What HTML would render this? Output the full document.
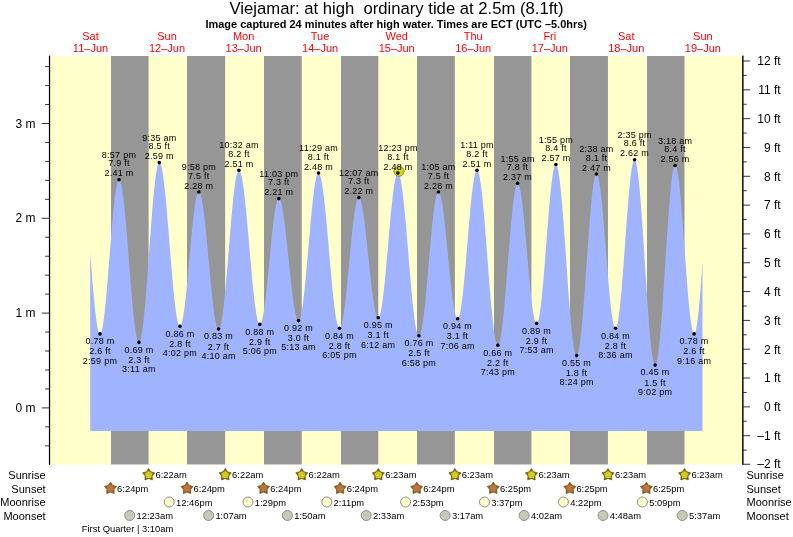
<!DOCTYPE html>
<html lang="en"><head><meta charset="utf-8"><title>Viejamar tide times</title>
<style>
html,body{margin:0;padding:0;background:#fff}
svg{display:block}
text{font-family:"Liberation Sans",Arial,Helvetica,sans-serif;fill:#000}
.t{font-size:16.67px;text-anchor:middle}
.s{font-size:10.96px;font-weight:bold}
.d{font-size:11px;fill:#f00;text-anchor:middle}
.ax{font-size:12px}
.axr{font-size:12px;text-anchor:end}
.rl{font-size:11px}
.rr{font-size:11px;text-anchor:end}
.l{font-size:9px;letter-spacing:0.25px;text-anchor:middle}
.e{font-size:9.4px}
</style></head><body>
<svg width="793" height="537" viewBox="0 0 793 537">
<rect width="793" height="537" fill="#fff"/>
<text class="t" x="396.5" y="13.5">Viejamar: at high&#160; ordinary tide at 2.5m (8.1ft)</text>
<text class="s" x="205.5" y="27.8">Image captured 24 minutes after high water. Times are ECT (UTC –5.0hrs)</text>
<text class="d" x="90.5" y="40.3">Sat</text><text class="d" x="90.5" y="52">11–Jun</text>
<text class="d" x="167.0" y="40.3">Sun</text><text class="d" x="167.0" y="52">12–Jun</text>
<text class="d" x="243.6" y="40.3">Mon</text><text class="d" x="243.6" y="52">13–Jun</text>
<text class="d" x="320.1" y="40.3">Tue</text><text class="d" x="320.1" y="52">14–Jun</text>
<text class="d" x="396.7" y="40.3">Wed</text><text class="d" x="396.7" y="52">15–Jun</text>
<text class="d" x="473.2" y="40.3">Thu</text><text class="d" x="473.2" y="52">16–Jun</text>
<text class="d" x="549.8" y="40.3">Fri</text><text class="d" x="549.8" y="52">17–Jun</text>
<text class="d" x="626.3" y="40.3">Sat</text><text class="d" x="626.3" y="52">18–Jun</text>
<text class="d" x="702.9" y="40.3">Sun</text><text class="d" x="702.9" y="52">19–Jun</text>
<g>
<rect x="50" y="56" width="692.2" height="408.45" fill="#ffffcc"/>
<rect x="111.00" y="56" width="37.60" height="408.45" fill="#969696"/>
<rect x="187.00" y="56" width="38.15" height="408.45" fill="#969696"/>
<rect x="264.00" y="56" width="37.70" height="408.45" fill="#969696"/>
<rect x="341.00" y="56" width="37.30" height="408.45" fill="#969696"/>
<rect x="417.00" y="56" width="37.85" height="408.45" fill="#969696"/>
<rect x="494.00" y="56" width="37.40" height="408.45" fill="#969696"/>
<rect x="570.00" y="56" width="37.95" height="408.45" fill="#969696"/>
<rect x="647.00" y="56" width="37.50" height="408.45" fill="#969696"/>
</g>
<polygon points="90.20,431.00 90.20,252.10 90.70,258.64 91.20,265.15 91.70,271.58 92.20,277.88 92.70,284.02 93.20,289.95 93.70,295.64 94.20,301.05 94.70,306.14 95.20,310.89 95.70,315.26 96.20,319.22 96.70,322.75 97.20,325.82 97.70,328.42 98.20,330.53 98.70,332.13 99.20,333.21 99.70,333.77 100.20,333.80 100.70,333.31 101.20,332.30 101.70,330.77 102.20,328.74 102.70,326.21 103.20,323.22 103.70,319.77 104.20,315.89 104.70,311.61 105.20,306.96 105.70,301.97 106.20,296.66 106.70,291.09 107.20,285.28 107.70,279.28 108.20,273.12 108.70,266.86 109.20,260.52 109.70,254.16 110.20,247.82 110.70,241.53 111.20,235.35 111.70,229.32 112.20,223.47 112.70,217.85 113.20,212.50 113.70,207.44 114.20,202.72 114.70,198.37 115.20,194.42 115.70,190.89 116.20,187.81 116.70,185.20 117.20,183.08 117.70,181.45 118.20,180.35 118.70,179.76 119.20,179.69 119.70,180.13 120.20,181.08 120.70,182.53 121.20,184.47 121.70,186.88 122.20,189.76 122.70,193.08 123.20,196.83 123.70,200.98 124.20,205.50 124.70,210.36 125.20,215.55 125.70,221.01 126.20,226.73 126.70,232.66 127.20,238.77 127.70,245.01 128.20,251.36 128.70,257.76 129.20,264.19 129.70,270.60 130.20,276.94 130.70,283.19 131.20,289.30 131.70,295.23 132.20,300.95 132.70,306.42 133.20,311.60 133.70,316.47 134.20,321.00 134.70,325.15 135.20,328.90 135.70,332.23 136.20,335.11 136.70,337.53 137.20,339.47 137.70,340.92 138.20,341.88 138.70,342.33 139.20,342.27 139.70,341.67 140.20,340.56 140.70,338.92 141.20,336.76 141.70,334.11 142.20,330.98 142.70,327.38 143.20,323.34 143.70,318.88 144.20,314.03 144.70,308.81 145.20,303.26 145.70,297.41 146.20,291.29 146.70,284.94 147.20,278.40 147.70,271.71 148.20,264.91 148.70,258.03 149.20,251.12 149.70,244.21 150.20,237.36 150.70,230.59 151.20,223.96 151.70,217.49 152.20,211.23 152.70,205.22 153.20,199.48 153.70,194.06 154.20,188.98 154.70,184.28 155.20,179.99 155.70,176.12 156.20,172.70 156.70,169.76 157.20,167.31 157.70,165.36 158.20,163.93 158.70,163.02 159.20,162.64 159.70,162.77 160.20,163.39 160.70,164.47 161.20,166.02 161.70,168.03 162.20,170.48 162.70,173.37 163.20,176.67 163.70,180.36 164.20,184.43 164.70,188.84 165.20,193.58 165.70,198.62 166.20,203.93 166.70,209.47 167.20,215.21 167.70,221.13 168.20,227.18 168.70,233.33 169.20,239.54 169.70,245.79 170.20,252.03 170.70,258.22 171.20,264.33 171.70,270.33 172.20,276.17 172.70,281.84 173.20,287.28 173.70,292.47 174.20,297.39 174.70,301.99 175.20,306.26 175.70,310.17 176.20,313.70 176.70,316.83 177.20,319.53 177.70,321.79 178.20,323.61 178.70,324.96 179.20,325.84 179.70,326.25 180.20,326.19 180.70,325.66 181.20,324.68 181.70,323.24 182.20,321.36 182.70,319.06 183.20,316.34 183.70,313.22 184.20,309.74 184.70,305.90 185.20,301.75 185.70,297.30 186.20,292.58 186.70,287.64 187.20,282.50 187.70,277.20 188.20,271.78 188.70,266.26 189.20,260.70 189.70,255.13 190.20,249.58 190.70,244.11 191.20,238.73 191.70,233.49 192.20,228.43 192.70,223.59 193.20,218.98 193.70,214.66 194.20,210.64 194.70,206.95 195.20,203.62 195.70,200.68 196.20,198.13 196.70,196.01 197.20,194.32 197.70,193.08 198.20,192.29 198.70,191.96 199.20,192.09 199.70,192.64 200.20,193.63 200.70,195.04 201.20,196.86 201.70,199.08 202.20,201.69 202.70,204.67 203.20,208.00 203.70,211.67 204.20,215.64 204.70,219.90 205.20,224.41 205.70,229.15 206.20,234.09 206.70,239.19 207.20,244.43 207.70,249.77 208.20,255.18 208.70,260.62 209.20,266.06 209.70,271.47 210.20,276.81 210.70,282.04 211.20,287.14 211.70,292.08 212.20,296.81 212.70,301.31 213.20,305.56 213.70,309.52 214.20,313.18 214.70,316.50 215.20,319.47 215.70,322.07 216.20,324.28 216.70,326.09 217.20,327.48 217.70,328.45 218.20,329.00 218.70,329.11 219.20,328.76 219.70,327.93 220.20,326.64 220.70,324.89 221.20,322.68 221.70,320.04 222.20,316.98 222.70,313.52 223.20,309.67 223.70,305.47 224.20,300.93 224.70,296.09 225.20,290.96 225.70,285.60 226.20,280.01 226.70,274.25 227.20,268.33 227.70,262.31 228.20,256.21 228.70,250.07 229.20,243.93 229.70,237.82 230.20,231.78 230.70,225.85 231.20,220.07 231.70,214.46 232.20,209.06 232.70,203.90 233.20,199.02 233.70,194.43 234.20,190.18 234.70,186.29 235.20,182.77 235.70,179.66 236.20,176.96 236.70,174.70 237.20,172.88 237.70,171.53 238.20,170.64 238.70,170.23 239.20,170.28 239.70,170.77 240.20,171.68 240.70,173.03 241.20,174.79 241.70,176.96 242.20,179.52 242.70,182.46 243.20,185.77 243.70,189.43 244.20,193.41 244.70,197.69 245.20,202.25 245.70,207.07 246.20,212.11 246.70,217.35 247.20,222.76 247.70,228.30 248.20,233.95 248.70,239.68 249.20,245.45 249.70,251.23 250.20,256.99 250.70,262.69 251.20,268.31 251.70,273.81 252.20,279.16 252.70,284.33 253.20,289.29 253.70,294.02 254.20,298.48 254.70,302.66 255.20,306.52 255.70,310.05 256.20,313.23 256.70,316.04 257.20,318.46 257.70,320.48 258.20,322.09 258.70,323.28 259.20,324.05 259.70,324.38 260.20,324.28 260.70,323.74 261.20,322.79 261.70,321.41 262.20,319.62 262.70,317.43 263.20,314.86 263.70,311.93 264.20,308.65 264.70,305.05 265.20,301.15 265.70,296.97 266.20,292.56 266.70,287.93 267.20,283.12 267.70,278.16 268.20,273.09 268.70,267.94 269.20,262.74 269.70,257.54 270.20,252.36 270.70,247.25 271.20,242.23 271.70,237.34 272.20,232.62 272.70,228.10 273.20,223.81 273.70,219.77 274.20,216.02 274.70,212.58 275.20,209.48 275.70,206.73 276.20,204.35 276.70,202.37 277.20,200.79 277.70,199.63 278.20,198.89 278.70,198.58 279.20,198.69 279.70,199.19 280.20,200.07 280.70,201.33 281.20,202.97 281.70,204.96 282.20,207.30 282.70,209.98 283.20,212.97 283.70,216.26 284.20,219.82 284.70,223.64 285.20,227.69 285.70,231.94 286.20,236.37 286.70,240.94 287.20,245.64 287.70,250.42 288.20,255.26 288.70,260.13 289.20,265.00 289.70,269.83 290.20,274.60 290.70,279.27 291.20,283.81 291.70,288.20 292.20,292.41 292.70,296.41 293.20,300.17 293.70,303.68 294.20,306.90 294.70,309.83 295.20,312.43 295.70,314.70 296.20,316.61 296.70,318.16 297.20,319.34 297.70,320.14 298.20,320.55 298.70,320.56 299.20,320.13 299.70,319.25 300.20,317.92 300.70,316.16 301.20,313.96 301.70,311.35 302.20,308.34 302.70,304.96 303.20,301.21 303.70,297.13 304.20,292.73 304.70,288.06 305.20,283.13 305.70,277.97 306.20,272.62 306.70,267.12 307.20,261.49 307.70,255.76 308.20,249.99 308.70,244.19 309.20,238.41 309.70,232.68 310.20,227.04 310.70,221.52 311.20,216.15 311.70,210.98 312.20,206.03 312.70,201.33 313.20,196.90 313.70,192.79 314.20,189.01 314.70,185.59 315.20,182.55 315.70,179.90 316.20,177.67 316.70,175.86 317.20,174.49 317.70,173.57 318.20,173.10 318.70,173.08 319.20,173.50 319.70,174.34 320.20,175.61 320.70,177.30 321.20,179.39 321.70,181.89 322.20,184.76 322.70,188.00 323.20,191.59 323.70,195.51 324.20,199.73 324.70,204.24 325.20,209.01 325.70,214.00 326.20,219.20 326.70,224.58 327.20,230.10 327.70,235.73 328.20,241.45 328.70,247.22 329.20,253.00 329.70,258.78 330.20,264.51 330.70,270.16 331.20,275.70 331.70,281.10 332.20,286.33 332.70,291.37 333.20,296.17 333.70,300.73 334.20,305.00 334.70,308.97 335.20,312.62 335.70,315.92 336.20,318.86 336.70,321.42 337.20,323.58 337.70,325.34 338.20,326.68 338.70,327.60 339.20,328.09 339.70,328.15 340.20,327.77 340.70,326.97 341.20,325.73 341.70,324.08 342.20,322.02 342.70,319.57 343.20,316.74 343.70,313.55 344.20,310.02 344.70,306.18 345.20,302.05 345.70,297.66 346.20,293.04 346.70,288.22 347.20,283.23 347.70,278.11 348.20,272.88 348.70,267.59 349.20,262.26 349.70,256.95 350.20,251.66 350.70,246.46 351.20,241.36 351.70,236.41 352.20,231.64 352.70,227.07 353.20,222.74 353.70,218.68 354.20,214.91 354.70,211.46 355.20,208.36 355.70,205.62 356.20,203.26 356.70,201.29 357.20,199.74 357.70,198.61 358.20,197.90 358.70,197.63 359.20,197.78 359.70,198.32 360.20,199.25 360.70,200.56 361.20,202.25 361.70,204.30 362.20,206.70 362.70,209.43 363.20,212.48 363.70,215.83 364.20,219.45 364.70,223.32 365.20,227.41 365.70,231.71 366.20,236.17 366.70,240.78 367.20,245.49 367.70,250.29 368.20,255.13 368.70,260.00 369.20,264.84 369.70,269.64 370.20,274.36 370.70,278.98 371.20,283.45 371.70,287.75 372.20,291.86 372.70,295.75 373.20,299.38 373.70,302.74 374.20,305.81 374.70,308.56 375.20,310.98 375.70,313.05 376.20,314.75 376.70,316.09 377.20,317.04 377.70,317.60 378.20,317.77 378.70,317.51 379.20,316.79 379.70,315.62 380.20,314.00 380.70,311.95 381.20,309.48 381.70,306.60 382.20,303.33 382.70,299.70 383.20,295.72 383.70,291.42 384.20,286.83 384.70,281.98 385.20,276.90 385.70,271.61 386.20,266.16 386.70,260.58 387.20,254.90 387.70,249.16 388.20,243.40 388.70,237.65 389.20,231.95 389.70,226.34 390.20,220.84 390.70,215.51 391.20,210.36 391.70,205.43 392.20,200.76 392.70,196.37 393.20,192.29 393.70,188.54 394.20,185.16 394.70,182.16 395.20,179.56 395.70,177.38 396.20,175.63 396.70,174.32 397.20,173.47 397.70,173.06 398.20,173.12 398.70,173.63 399.20,174.60 399.70,176.00 400.20,177.85 400.70,180.13 401.20,182.82 401.70,185.91 402.20,189.39 402.70,193.22 403.20,197.40 403.70,201.90 404.20,206.70 404.70,211.75 405.20,217.05 405.70,222.56 406.20,228.24 406.70,234.07 407.20,240.02 407.70,246.04 408.20,252.12 408.70,258.20 409.20,264.26 409.70,270.27 410.20,276.19 410.70,281.99 411.20,287.63 411.70,293.09 412.20,298.33 412.70,303.32 413.20,308.04 413.70,312.46 414.20,316.56 414.70,320.31 415.20,323.68 415.70,326.68 416.20,329.26 416.70,331.43 417.20,333.17 417.70,334.47 418.20,335.32 418.70,335.71 419.20,335.65 419.70,335.13 420.20,334.14 420.70,332.70 421.20,330.81 421.70,328.49 422.20,325.75 422.70,322.60 423.20,319.08 423.70,315.20 424.20,310.99 424.70,306.47 425.20,301.67 425.70,296.63 426.20,291.38 426.70,285.95 427.20,280.38 427.70,274.70 428.20,268.94 428.70,263.16 429.20,257.38 429.70,251.64 430.20,245.98 430.70,240.44 431.20,235.05 431.70,229.84 432.20,224.86 432.70,220.13 433.20,215.68 433.70,211.54 434.20,207.74 434.70,204.31 435.20,201.26 435.70,198.62 436.20,196.40 436.70,194.61 437.20,193.28 437.70,192.40 438.20,191.99 438.70,192.03 439.20,192.50 439.70,193.39 440.20,194.70 440.70,196.41 441.20,198.52 441.70,201.00 442.20,203.85 442.70,207.05 443.20,210.57 443.70,214.39 444.20,218.48 444.70,222.82 445.20,227.37 445.70,232.12 446.20,237.02 446.70,242.04 447.20,247.15 447.70,252.32 448.20,257.51 448.70,262.68 449.20,267.80 449.70,272.84 450.20,277.76 450.70,282.53 451.20,287.12 451.70,291.50 452.20,295.63 452.70,299.50 453.20,303.07 453.70,306.32 454.20,309.23 454.70,311.77 455.20,313.94 455.70,315.72 456.20,317.09 456.70,318.05 457.20,318.59 457.70,318.70 458.20,318.35 458.70,317.51 459.20,316.19 459.70,314.41 460.20,312.16 460.70,309.48 461.20,306.36 461.70,302.84 462.20,298.94 462.70,294.68 463.20,290.09 463.70,285.21 464.20,280.05 464.70,274.67 465.20,269.08 465.70,263.34 466.20,257.47 466.70,251.51 467.20,245.51 467.70,239.50 468.20,233.53 468.70,227.62 469.20,221.83 469.70,216.18 470.20,210.72 470.70,205.48 471.20,200.50 471.70,195.80 472.20,191.42 472.70,187.39 473.20,183.74 473.70,180.48 474.20,177.64 474.70,175.24 475.20,173.29 475.70,171.81 476.20,170.80 476.70,170.28 477.20,170.24 477.70,170.70 478.20,171.65 478.70,173.09 479.20,175.01 479.70,177.40 480.20,180.25 480.70,183.53 481.20,187.24 481.70,191.35 482.20,195.83 482.70,200.67 483.20,205.83 483.70,211.28 484.20,217.00 484.70,222.95 485.20,229.10 485.70,235.41 486.20,241.84 486.70,248.37 487.20,254.95 487.70,261.54 488.20,268.11 488.70,274.63 489.20,281.04 489.70,287.33 490.20,293.45 490.70,299.36 491.20,305.04 491.70,310.44 492.20,315.55 492.70,320.33 493.20,324.76 493.70,328.80 494.20,332.44 494.70,335.65 495.20,338.43 495.70,340.74 496.20,342.58 496.70,343.94 497.20,344.81 497.70,345.19 498.20,345.06 498.70,344.43 499.20,343.29 499.70,341.65 500.20,339.53 500.70,336.93 501.20,333.87 501.70,330.38 502.20,326.47 502.70,322.16 503.20,317.49 503.70,312.49 504.20,307.18 504.70,301.60 505.20,295.79 505.70,289.78 506.20,283.61 506.70,277.32 507.20,270.94 507.70,264.52 508.20,258.10 508.70,251.72 509.20,245.42 509.70,239.24 510.20,233.22 510.70,227.39 511.20,221.80 511.70,216.48 512.20,211.45 512.70,206.76 513.20,202.43 513.70,198.50 514.20,194.97 514.70,191.89 515.20,189.26 515.70,187.11 516.20,185.44 516.70,184.27 517.20,183.60 517.70,183.45 518.20,183.78 518.70,184.58 519.20,185.86 519.70,187.59 520.20,189.77 520.70,192.39 521.20,195.42 521.70,198.84 522.20,202.64 522.70,206.79 523.20,211.25 523.70,216.00 524.20,221.00 524.70,226.23 525.20,231.64 525.70,237.19 526.20,242.86 526.70,248.60 527.20,254.38 527.70,260.15 528.20,265.87 528.70,271.51 529.20,277.02 529.70,282.37 530.20,287.53 530.70,292.46 531.20,297.12 531.70,301.48 532.20,305.51 532.70,309.19 533.20,312.49 533.70,315.39 534.20,317.87 534.70,319.91 535.20,321.49 535.70,322.61 536.20,323.27 536.70,323.44 537.20,323.11 537.70,322.25 538.20,320.87 538.70,318.97 539.20,316.58 539.70,313.70 540.20,310.36 540.70,306.58 541.20,302.38 541.70,297.79 542.20,292.84 542.70,287.57 543.20,282.01 543.70,276.19 544.20,270.16 544.70,263.96 545.20,257.62 545.70,251.19 546.20,244.71 546.70,238.23 547.20,231.79 547.70,225.43 548.20,219.19 548.70,213.12 549.20,207.25 549.70,201.63 550.20,196.29 550.70,191.26 551.20,186.59 551.70,182.30 552.20,178.42 552.70,174.98 553.20,171.99 553.70,169.49 554.20,167.48 554.70,165.98 555.20,165.00 555.70,164.55 556.20,164.63 556.70,165.26 557.20,166.44 557.70,168.15 558.20,170.40 558.70,173.16 559.20,176.43 559.70,180.17 560.20,184.38 560.70,189.03 561.20,194.08 561.70,199.51 562.20,205.30 562.70,211.40 563.20,217.78 563.70,224.40 564.20,231.23 564.70,238.23 565.20,245.35 565.70,252.55 566.20,259.80 566.70,267.06 567.20,274.27 567.70,281.40 568.20,288.40 568.70,295.24 569.20,301.88 569.70,308.28 570.20,314.40 570.70,320.21 571.20,325.67 571.70,330.75 572.20,335.43 572.70,339.67 573.20,343.45 573.70,346.75 574.20,349.55 574.70,351.83 575.20,353.59 575.70,354.80 576.20,355.47 576.70,355.59 577.20,355.14 577.70,354.13 578.20,352.57 578.70,350.46 579.20,347.81 579.70,344.64 580.20,340.98 580.70,336.84 581.20,332.25 581.70,327.24 582.20,321.84 582.70,316.09 583.20,310.01 583.70,303.66 584.20,297.06 584.70,290.26 585.20,283.30 585.70,276.22 586.20,269.07 586.70,261.90 587.20,254.75 587.70,247.65 588.20,240.67 588.70,233.83 589.20,227.19 589.70,220.78 590.20,214.65 590.70,208.83 591.20,203.36 591.70,198.27 592.20,193.60 592.70,189.37 593.20,185.62 593.70,182.35 594.20,179.60 594.70,177.39 595.20,175.71 595.70,174.60 596.20,174.04 596.70,174.05 597.20,174.59 597.70,175.64 598.20,177.21 598.70,179.29 599.20,181.85 599.70,184.88 600.20,188.36 600.70,192.28 601.20,196.59 601.70,201.27 602.20,206.29 602.70,211.62 603.20,217.21 603.70,223.04 604.20,229.05 604.70,235.22 605.20,241.50 605.70,247.83 606.20,254.20 606.70,260.54 607.20,266.81 607.70,272.98 608.20,279.00 608.70,284.83 609.20,290.43 609.70,295.76 610.20,300.79 610.70,305.48 611.20,309.80 611.70,313.72 612.20,317.21 612.70,320.25 613.20,322.82 613.70,324.91 614.20,326.49 614.70,327.55 615.20,328.10 615.70,328.12 616.20,327.57 616.70,326.46 617.20,324.79 617.70,322.57 618.20,319.82 618.70,316.56 619.20,312.80 619.70,308.58 620.20,303.92 620.70,298.86 621.20,293.42 621.70,287.65 622.20,281.59 622.70,275.27 623.20,268.73 623.70,262.03 624.20,255.21 624.70,248.31 625.20,241.38 625.70,234.47 626.20,227.63 626.70,220.89 627.20,214.32 627.70,207.94 628.20,201.80 628.70,195.96 629.20,190.43 629.70,185.27 630.20,180.51 630.70,176.18 631.20,172.30 631.70,168.91 632.20,166.03 632.70,163.68 633.20,161.87 633.70,160.62 634.20,159.93 634.70,159.81 635.20,160.29 635.70,161.35 636.20,163.01 636.70,165.25 637.20,168.05 637.70,171.40 638.20,175.28 638.70,179.67 639.20,184.55 639.70,189.87 640.20,195.62 640.70,201.76 641.20,208.25 641.70,215.06 642.20,222.14 642.70,229.46 643.20,236.97 643.70,244.63 644.20,252.40 644.70,260.22 645.20,268.05 645.70,275.85 646.20,283.57 646.70,291.17 647.20,298.61 647.70,305.83 648.20,312.80 648.70,319.47 649.20,325.81 649.70,331.79 650.20,337.36 650.70,342.49 651.20,347.16 651.70,351.33 652.20,354.98 652.70,358.10 653.20,360.66 653.70,362.64 654.20,364.04 654.70,364.85 655.20,365.06 655.70,364.67 656.20,363.66 656.70,362.04 657.20,359.82 657.70,357.02 658.20,353.66 658.70,349.75 659.20,345.31 659.70,340.39 660.20,335.00 660.70,329.18 661.20,322.96 661.70,316.39 662.20,309.50 662.70,302.34 663.20,294.95 663.70,287.38 664.20,279.67 664.70,271.88 665.20,264.04 665.70,256.21 666.20,248.43 666.70,240.76 667.20,233.24 667.70,225.92 668.20,218.84 668.70,212.05 669.20,205.58 669.70,199.49 670.20,193.80 670.70,188.55 671.20,183.78 671.70,179.50 672.20,175.76 672.70,172.57 673.20,169.95 673.70,167.92 674.20,166.50 674.70,165.68 675.20,165.47 675.70,165.86 676.20,166.81 676.70,168.33 677.20,170.40 677.70,173.01 678.20,176.14 678.70,179.78 679.20,183.89 679.70,188.44 680.20,193.42 680.70,198.78 681.20,204.48 681.70,210.49 682.20,216.77 682.70,223.27 683.20,229.95 683.70,236.77 684.20,243.67 684.70,250.61 685.20,257.55 685.70,264.44 686.20,271.22 686.70,277.86 687.20,284.30 687.70,290.51 688.20,296.44 688.70,302.05 689.20,307.31 689.70,312.17 690.20,316.61 690.70,320.59 691.20,324.09 691.70,327.08 692.20,329.54 692.70,331.46 693.20,332.83 693.70,333.62 694.20,333.85 694.70,333.48 695.20,332.51 695.70,330.95 696.20,328.80 696.70,326.09 697.20,322.82 697.70,319.02 698.20,314.72 698.70,309.95 699.20,304.73 699.70,299.11 700.20,293.13 700.70,286.81 701.20,280.22 701.70,273.38 702.20,266.36 702.50,262.07 702.50,431.00" fill="#a0b3ff"/>
<rect x="48.9" y="55.6" width="1.25" height="409.2" fill="#000"/><rect x="742.1" y="55.6" width="1.45" height="409.2" fill="#000"/>
<g stroke="#000" stroke-width="0.8">
<line x1="45.1" y1="445.82" x2="49" y2="445.82"/>
<line x1="45.1" y1="426.86" x2="49" y2="426.86"/>
<line x1="41.8" y1="407.90" x2="49" y2="407.90"/>
<line x1="45.1" y1="388.94" x2="49" y2="388.94"/>
<line x1="45.1" y1="369.98" x2="49" y2="369.98"/>
<line x1="45.1" y1="351.02" x2="49" y2="351.02"/>
<line x1="45.1" y1="332.06" x2="49" y2="332.06"/>
<line x1="41.8" y1="313.10" x2="49" y2="313.10"/>
<line x1="45.1" y1="294.14" x2="49" y2="294.14"/>
<line x1="45.1" y1="275.18" x2="49" y2="275.18"/>
<line x1="45.1" y1="256.22" x2="49" y2="256.22"/>
<line x1="45.1" y1="237.26" x2="49" y2="237.26"/>
<line x1="41.8" y1="218.30" x2="49" y2="218.30"/>
<line x1="45.1" y1="199.34" x2="49" y2="199.34"/>
<line x1="45.1" y1="180.38" x2="49" y2="180.38"/>
<line x1="45.1" y1="161.42" x2="49" y2="161.42"/>
<line x1="45.1" y1="142.46" x2="49" y2="142.46"/>
<line x1="41.8" y1="123.50" x2="49" y2="123.50"/>
<line x1="45.1" y1="104.54" x2="49" y2="104.54"/>
<line x1="45.1" y1="85.58" x2="49" y2="85.58"/>
<line x1="45.1" y1="66.62" x2="49" y2="66.62"/>
<line x1="743.3" y1="464.25" x2="750.1" y2="464.25"/>
<line x1="743.3" y1="450.08" x2="746.7" y2="450.08"/>
<line x1="743.3" y1="435.67" x2="750.1" y2="435.67"/>
<line x1="743.3" y1="421.26" x2="746.7" y2="421.26"/>
<line x1="743.3" y1="406.85" x2="750.1" y2="406.85"/>
<line x1="743.3" y1="392.44" x2="746.7" y2="392.44"/>
<line x1="743.3" y1="378.03" x2="750.1" y2="378.03"/>
<line x1="743.3" y1="363.62" x2="746.7" y2="363.62"/>
<line x1="743.3" y1="349.21" x2="750.1" y2="349.21"/>
<line x1="743.3" y1="334.80" x2="746.7" y2="334.80"/>
<line x1="743.3" y1="320.39" x2="750.1" y2="320.39"/>
<line x1="743.3" y1="305.98" x2="746.7" y2="305.98"/>
<line x1="743.3" y1="291.57" x2="750.1" y2="291.57"/>
<line x1="743.3" y1="277.16" x2="746.7" y2="277.16"/>
<line x1="743.3" y1="262.75" x2="750.1" y2="262.75"/>
<line x1="743.3" y1="248.34" x2="746.7" y2="248.34"/>
<line x1="743.3" y1="233.93" x2="750.1" y2="233.93"/>
<line x1="743.3" y1="219.52" x2="746.7" y2="219.52"/>
<line x1="743.3" y1="205.11" x2="750.1" y2="205.11"/>
<line x1="743.3" y1="190.70" x2="746.7" y2="190.70"/>
<line x1="743.3" y1="176.29" x2="750.1" y2="176.29"/>
<line x1="743.3" y1="161.88" x2="746.7" y2="161.88"/>
<line x1="743.3" y1="147.47" x2="750.1" y2="147.47"/>
<line x1="743.3" y1="133.06" x2="746.7" y2="133.06"/>
<line x1="743.3" y1="118.65" x2="750.1" y2="118.65"/>
<line x1="743.3" y1="104.24" x2="746.7" y2="104.24"/>
<line x1="743.3" y1="89.83" x2="750.1" y2="89.83"/>
<line x1="743.3" y1="75.42" x2="746.7" y2="75.42"/>
<line x1="743.3" y1="61.01" x2="750.1" y2="61.01"/>
</g>
<text class="ax" x="15.5" y="412.0">0 m</text>
<text class="ax" x="15.5" y="317.2">1 m</text>
<text class="ax" x="15.5" y="222.4">2 m</text>
<text class="ax" x="15.5" y="127.6">3 m</text>
<text class="axr" x="780.6" y="467.8">–2 ft</text>
<text class="axr" x="780.6" y="440.0">–1 ft</text>
<text class="axr" x="780.6" y="411.2">0 ft</text>
<text class="axr" x="780.6" y="382.3">1 ft</text>
<text class="axr" x="780.6" y="353.5">2 ft</text>
<text class="axr" x="780.6" y="324.7">3 ft</text>
<text class="axr" x="780.6" y="295.9">4 ft</text>
<text class="axr" x="780.6" y="267.1">5 ft</text>
<text class="axr" x="780.6" y="238.2">6 ft</text>
<text class="axr" x="780.6" y="209.4">7 ft</text>
<text class="axr" x="780.6" y="180.6">8 ft</text>
<text class="axr" x="780.6" y="151.8">9 ft</text>
<text class="axr" x="780.6" y="123.0">10 ft</text>
<text class="axr" x="780.6" y="94.1">11 ft</text>
<text class="axr" x="780.6" y="65.3">12 ft</text>
<circle cx="399.0" cy="171.2" r="5.1" fill="#d2d222" stroke="#9a9a18" stroke-width="1"/>
<text class="l" x="100.0" y="344.2">0.78 m</text><text class="l" x="100.0" y="354.4">2.6 ft</text><text class="l" x="100.0" y="363.7">2:59 pm</text>
<text class="l" x="119.0" y="157.9">8:57 pm</text><text class="l" x="119.0" y="166.3">7.9 ft</text><text class="l" x="119.0" y="176.3">2.41 m</text>
<text class="l" x="138.9" y="352.7">0.69 m</text><text class="l" x="138.9" y="362.9">2.3 ft</text><text class="l" x="138.9" y="372.2">3:11 am</text>
<text class="l" x="159.3" y="140.8">9:35 am</text><text class="l" x="159.3" y="149.2">8.5 ft</text><text class="l" x="159.3" y="159.2">2.59 m</text>
<text class="l" x="179.9" y="336.6">0.86 m</text><text class="l" x="179.9" y="346.8">2.8 ft</text><text class="l" x="179.9" y="356.1">4:02 pm</text>
<text class="l" x="198.8" y="170.2">9:58 pm</text><text class="l" x="198.8" y="178.6">7.5 ft</text><text class="l" x="198.8" y="188.6">2.28 m</text>
<text class="l" x="218.6" y="339.4">0.83 m</text><text class="l" x="218.6" y="349.6">2.7 ft</text><text class="l" x="218.6" y="358.9">4:10 am</text>
<text class="l" x="238.9" y="148.4">10:32 am</text><text class="l" x="238.9" y="156.8">8.2 ft</text><text class="l" x="238.9" y="166.8">2.51 m</text>
<text class="l" x="259.8" y="334.7">0.88 m</text><text class="l" x="259.8" y="344.9">2.9 ft</text><text class="l" x="259.8" y="354.2">5:06 pm</text>
<text class="l" x="278.8" y="176.8">11:03 pm</text><text class="l" x="278.8" y="185.2">7.3 ft</text><text class="l" x="278.8" y="195.2">2.21 m</text>
<text class="l" x="298.5" y="330.9">0.92 m</text><text class="l" x="298.5" y="341.1">3.0 ft</text><text class="l" x="298.5" y="350.4">5:13 am</text>
<text class="l" x="318.5" y="151.2">11:29 am</text><text class="l" x="318.5" y="159.6">8.1 ft</text><text class="l" x="318.5" y="169.6">2.48 m</text>
<text class="l" x="339.5" y="338.5">0.84 m</text><text class="l" x="339.5" y="348.7">2.8 ft</text><text class="l" x="339.5" y="358.0">6:05 pm</text>
<text class="l" x="358.8" y="175.8">12:07 am</text><text class="l" x="358.8" y="184.2">7.3 ft</text><text class="l" x="358.8" y="194.2">2.22 m</text>
<text class="l" x="378.2" y="328.1">0.95 m</text><text class="l" x="378.2" y="338.3">3.1 ft</text><text class="l" x="378.2" y="347.6">6:12 am</text>
<text class="l" x="397.9" y="151.2">12:23 pm</text><text class="l" x="397.9" y="159.6">8.1 ft</text><text class="l" x="397.9" y="169.6">2.48 m</text>
<text class="l" x="418.9" y="346.0">0.76 m</text><text class="l" x="418.9" y="356.2">2.5 ft</text><text class="l" x="418.9" y="365.5">6:58 pm</text>
<text class="l" x="438.4" y="170.2">1:05 am</text><text class="l" x="438.4" y="178.6">7.5 ft</text><text class="l" x="438.4" y="188.6">2.28 m</text>
<text class="l" x="457.6" y="329.0">0.94 m</text><text class="l" x="457.6" y="339.2">3.1 ft</text><text class="l" x="457.6" y="348.5">7:06 am</text>
<text class="l" x="477.0" y="148.4">1:11 pm</text><text class="l" x="477.0" y="156.8">8.2 ft</text><text class="l" x="477.0" y="166.8">2.51 m</text>
<text class="l" x="497.8" y="355.5">0.66 m</text><text class="l" x="497.8" y="365.7">2.2 ft</text><text class="l" x="497.8" y="375.0">7:43 pm</text>
<text class="l" x="517.6" y="161.6">1:55 am</text><text class="l" x="517.6" y="170.0">7.8 ft</text><text class="l" x="517.6" y="180.0">2.37 m</text>
<text class="l" x="536.6" y="333.7">0.89 m</text><text class="l" x="536.6" y="343.9">2.9 ft</text><text class="l" x="536.6" y="353.2">7:53 am</text>
<text class="l" x="555.9" y="142.7">1:55 pm</text><text class="l" x="555.9" y="151.1">8.4 ft</text><text class="l" x="555.9" y="161.1">2.57 m</text>
<text class="l" x="576.6" y="365.9">0.55 m</text><text class="l" x="576.6" y="376.1">1.8 ft</text><text class="l" x="576.6" y="385.4">8:24 pm</text>
<text class="l" x="596.4" y="152.2">2:38 am</text><text class="l" x="596.4" y="160.6">8.1 ft</text><text class="l" x="596.4" y="170.6">2.47 m</text>
<text class="l" x="615.5" y="338.5">0.84 m</text><text class="l" x="615.5" y="348.7">2.8 ft</text><text class="l" x="615.5" y="358.0">8:36 am</text>
<text class="l" x="634.6" y="138.0">2:35 pm</text><text class="l" x="634.6" y="146.4">8.6 ft</text><text class="l" x="634.6" y="156.4">2.62 m</text>
<text class="l" x="655.1" y="375.4">0.45 m</text><text class="l" x="655.1" y="385.6">1.5 ft</text><text class="l" x="655.1" y="394.9">9:02 pm</text>
<text class="l" x="675.1" y="143.7">3:18 am</text><text class="l" x="675.1" y="152.1">8.4 ft</text><text class="l" x="675.1" y="162.1">2.56 m</text>
<text class="l" x="694.1" y="344.2">0.78 m</text><text class="l" x="694.1" y="354.4">2.6 ft</text><text class="l" x="694.1" y="363.7">9:16 am</text>
<circle cx="100.0" cy="333.9" r="1.8" fill="#000"/>
<circle cx="119.0" cy="179.7" r="1.8" fill="#000"/>
<circle cx="138.9" cy="342.4" r="1.8" fill="#000"/>
<circle cx="159.3" cy="162.6" r="1.8" fill="#000"/>
<circle cx="179.9" cy="326.3" r="1.8" fill="#000"/>
<circle cx="198.8" cy="192.0" r="1.8" fill="#000"/>
<circle cx="218.6" cy="329.1" r="1.8" fill="#000"/>
<circle cx="238.9" cy="170.2" r="1.8" fill="#000"/>
<circle cx="259.8" cy="324.4" r="1.8" fill="#000"/>
<circle cx="278.8" cy="198.6" r="1.8" fill="#000"/>
<circle cx="298.5" cy="320.6" r="1.8" fill="#000"/>
<circle cx="318.5" cy="173.0" r="1.8" fill="#000"/>
<circle cx="339.5" cy="328.2" r="1.8" fill="#000"/>
<circle cx="358.8" cy="197.6" r="1.8" fill="#000"/>
<circle cx="378.2" cy="317.8" r="1.8" fill="#000"/>
<circle cx="397.9" cy="173.0" r="1.8" fill="#000"/>
<circle cx="418.9" cy="335.7" r="1.8" fill="#000"/>
<circle cx="438.4" cy="192.0" r="1.8" fill="#000"/>
<circle cx="457.6" cy="318.7" r="1.8" fill="#000"/>
<circle cx="477.0" cy="170.2" r="1.8" fill="#000"/>
<circle cx="497.8" cy="345.2" r="1.8" fill="#000"/>
<circle cx="517.6" cy="183.4" r="1.8" fill="#000"/>
<circle cx="536.6" cy="323.4" r="1.8" fill="#000"/>
<circle cx="555.9" cy="164.5" r="1.8" fill="#000"/>
<circle cx="576.6" cy="355.6" r="1.8" fill="#000"/>
<circle cx="596.4" cy="174.0" r="1.8" fill="#000"/>
<circle cx="615.5" cy="328.2" r="1.8" fill="#000"/>
<circle cx="634.6" cy="159.8" r="1.8" fill="#000"/>
<circle cx="655.1" cy="365.1" r="1.8" fill="#000"/>
<circle cx="675.1" cy="165.5" r="1.8" fill="#000"/>
<circle cx="694.1" cy="333.9" r="1.8" fill="#000"/>
<text class="rr" x="45.6" y="478.7">Sunrise</text><text class="rl" x="746.5" y="478.7">Sunrise</text>
<text class="rr" x="45.6" y="492.5">Sunset</text><text class="rl" x="746.5" y="492.5">Sunset</text>
<text class="rr" x="45.6" y="506.0">Moonrise</text><text class="rl" x="746.5" y="506.0">Moonrise</text>
<text class="rr" x="45.6" y="519.6">Moonset</text><text class="rl" x="746.5" y="519.6">Moonset</text>
<polygon points="148.65,468.50 150.82,471.81 154.64,472.85 152.17,475.94 152.35,479.90 148.65,478.50 144.94,479.90 145.13,475.94 142.66,472.85 146.47,471.81" fill="#7c5c10" stroke="#7c5c10" stroke-width="0.8" stroke-linejoin="miter"/><polygon points="148.65,470.90 150.50,472.25 152.36,473.59 151.64,475.77 150.94,477.96 148.65,477.95 146.35,477.96 145.65,475.77 144.94,473.59 146.80,472.25" fill="#cdcd20" stroke="#cdcd20" stroke-width="0.3" stroke-linejoin="round"/><text class="e" x="155.5" y="478.3">6:22am</text>
<polygon points="225.20,468.50 227.37,471.81 231.19,472.85 228.72,475.94 228.90,479.90 225.20,478.50 221.49,479.90 221.68,475.94 219.21,472.85 223.02,471.81" fill="#7c5c10" stroke="#7c5c10" stroke-width="0.8" stroke-linejoin="miter"/><polygon points="225.20,470.90 227.05,472.25 228.91,473.59 228.19,475.77 227.49,477.96 225.20,477.95 222.90,477.96 222.20,475.77 221.49,473.59 223.35,472.25" fill="#cdcd20" stroke="#cdcd20" stroke-width="0.3" stroke-linejoin="round"/><text class="e" x="232.1" y="478.3">6:22am</text>
<polygon points="301.75,468.50 303.92,471.81 307.74,472.85 305.27,475.94 305.45,479.90 301.75,478.50 298.04,479.90 298.23,475.94 295.76,472.85 299.57,471.81" fill="#7c5c10" stroke="#7c5c10" stroke-width="0.8" stroke-linejoin="miter"/><polygon points="301.75,470.90 303.60,472.25 305.46,473.59 304.74,475.77 304.04,477.96 301.75,477.95 299.45,477.96 298.75,475.77 298.04,473.59 299.90,472.25" fill="#cdcd20" stroke="#cdcd20" stroke-width="0.3" stroke-linejoin="round"/><text class="e" x="308.6" y="478.3">6:22am</text>
<polygon points="378.35,468.50 380.52,471.81 384.34,472.85 381.87,475.94 382.05,479.90 378.35,478.50 374.65,479.90 374.83,475.94 372.36,472.85 376.18,471.81" fill="#7c5c10" stroke="#7c5c10" stroke-width="0.8" stroke-linejoin="miter"/><polygon points="378.35,470.90 380.20,472.25 382.06,473.59 381.35,475.77 380.64,477.96 378.35,477.95 376.06,477.96 375.35,475.77 374.64,473.59 376.50,472.25" fill="#cdcd20" stroke="#cdcd20" stroke-width="0.3" stroke-linejoin="round"/><text class="e" x="385.3" y="478.3">6:23am</text>
<polygon points="454.90,468.50 457.07,471.81 460.89,472.85 458.42,475.94 458.60,479.90 454.90,478.50 451.20,479.90 451.38,475.94 448.91,472.85 452.73,471.81" fill="#7c5c10" stroke="#7c5c10" stroke-width="0.8" stroke-linejoin="miter"/><polygon points="454.90,470.90 456.75,472.25 458.61,473.59 457.90,475.77 457.19,477.96 454.90,477.95 452.61,477.96 451.90,475.77 451.19,473.59 453.05,472.25" fill="#cdcd20" stroke="#cdcd20" stroke-width="0.3" stroke-linejoin="round"/><text class="e" x="461.8" y="478.3">6:23am</text>
<polygon points="531.45,468.50 533.62,471.81 537.44,472.85 534.97,475.94 535.15,479.90 531.45,478.50 527.75,479.90 527.93,475.94 525.46,472.85 529.28,471.81" fill="#7c5c10" stroke="#7c5c10" stroke-width="0.8" stroke-linejoin="miter"/><polygon points="531.45,470.90 533.30,472.25 535.16,473.59 534.45,475.77 533.74,477.96 531.45,477.95 529.16,477.96 528.45,475.77 527.74,473.59 529.60,472.25" fill="#cdcd20" stroke="#cdcd20" stroke-width="0.3" stroke-linejoin="round"/><text class="e" x="538.4" y="478.3">6:23am</text>
<polygon points="608.00,468.50 610.17,471.81 613.99,472.85 611.52,475.94 611.70,479.90 608.00,478.50 604.30,479.90 604.48,475.94 602.01,472.85 605.83,471.81" fill="#7c5c10" stroke="#7c5c10" stroke-width="0.8" stroke-linejoin="miter"/><polygon points="608.00,470.90 609.85,472.25 611.71,473.59 611.00,475.77 610.29,477.96 608.00,477.95 605.71,477.96 605.00,475.77 604.29,473.59 606.15,472.25" fill="#cdcd20" stroke="#cdcd20" stroke-width="0.3" stroke-linejoin="round"/><text class="e" x="614.9" y="478.3">6:23am</text>
<polygon points="684.55,468.50 686.72,471.81 690.54,472.85 688.07,475.94 688.25,479.90 684.55,478.50 680.85,479.90 681.03,475.94 678.56,472.85 682.38,471.81" fill="#7c5c10" stroke="#7c5c10" stroke-width="0.8" stroke-linejoin="miter"/><polygon points="684.55,470.90 686.40,472.25 688.26,473.59 687.55,475.77 686.84,477.96 684.55,477.95 682.26,477.96 681.55,475.77 680.84,473.59 682.70,472.25" fill="#cdcd20" stroke="#cdcd20" stroke-width="0.3" stroke-linejoin="round"/><text class="e" x="691.5" y="478.3">6:23am</text>
<polygon points="110.48,482.10 112.65,485.41 116.47,486.45 114.00,489.54 114.18,493.50 110.48,492.10 106.78,493.50 106.96,489.54 104.49,486.45 108.30,485.41" fill="#7c5c10" stroke="#7c5c10" stroke-width="0.8" stroke-linejoin="miter"/><polygon points="110.48,484.50 112.33,485.85 114.19,487.19 113.47,489.37 112.77,491.56 110.48,491.55 108.19,491.56 107.48,489.37 106.77,487.19 108.63,485.85" fill="#c07248" stroke="#c07248" stroke-width="0.3" stroke-linejoin="round"/><text class="e" x="117.1" y="492.4">6:24pm</text>
<polygon points="187.03,482.10 189.20,485.41 193.02,486.45 190.55,489.54 190.73,493.50 187.03,492.10 183.33,493.50 183.51,489.54 181.04,486.45 184.85,485.41" fill="#7c5c10" stroke="#7c5c10" stroke-width="0.8" stroke-linejoin="miter"/><polygon points="187.03,484.50 188.88,485.85 190.74,487.19 190.02,489.37 189.32,491.56 187.03,491.55 184.74,491.56 184.03,489.37 183.32,487.19 185.18,485.85" fill="#c07248" stroke="#c07248" stroke-width="0.3" stroke-linejoin="round"/><text class="e" x="193.6" y="492.4">6:24pm</text>
<polygon points="263.58,482.10 265.75,485.41 269.57,486.45 267.10,489.54 267.28,493.50 263.58,492.10 259.88,493.50 260.06,489.54 257.59,486.45 261.40,485.41" fill="#7c5c10" stroke="#7c5c10" stroke-width="0.8" stroke-linejoin="miter"/><polygon points="263.58,484.50 265.43,485.85 267.29,487.19 266.57,489.37 265.87,491.56 263.58,491.55 261.29,491.56 260.58,489.37 259.87,487.19 261.73,485.85" fill="#c07248" stroke="#c07248" stroke-width="0.3" stroke-linejoin="round"/><text class="e" x="270.2" y="492.4">6:24pm</text>
<polygon points="340.13,482.10 342.30,485.41 346.12,486.45 343.65,489.54 343.83,493.50 340.13,492.10 336.43,493.50 336.61,489.54 334.14,486.45 337.95,485.41" fill="#7c5c10" stroke="#7c5c10" stroke-width="0.8" stroke-linejoin="miter"/><polygon points="340.13,484.50 341.98,485.85 343.84,487.19 343.12,489.37 342.42,491.56 340.13,491.55 337.84,491.56 337.13,489.37 336.42,487.19 338.28,485.85" fill="#c07248" stroke="#c07248" stroke-width="0.3" stroke-linejoin="round"/><text class="e" x="346.7" y="492.4">6:24pm</text>
<polygon points="416.68,482.10 418.85,485.41 422.67,486.45 420.20,489.54 420.38,493.50 416.68,492.10 412.98,493.50 413.16,489.54 410.69,486.45 414.50,485.41" fill="#7c5c10" stroke="#7c5c10" stroke-width="0.8" stroke-linejoin="miter"/><polygon points="416.68,484.50 418.53,485.85 420.39,487.19 419.67,489.37 418.97,491.56 416.68,491.55 414.39,491.56 413.68,489.37 412.97,487.19 414.83,485.85" fill="#c07248" stroke="#c07248" stroke-width="0.3" stroke-linejoin="round"/><text class="e" x="423.3" y="492.4">6:24pm</text>
<polygon points="493.28,482.10 495.46,485.41 499.27,486.45 496.80,489.54 496.98,493.50 493.28,492.10 489.58,493.50 489.76,489.54 487.29,486.45 491.11,485.41" fill="#7c5c10" stroke="#7c5c10" stroke-width="0.8" stroke-linejoin="miter"/><polygon points="493.28,484.50 495.13,485.85 496.99,487.19 496.28,489.37 495.57,491.56 493.28,491.55 490.99,491.56 490.29,489.37 489.57,487.19 491.43,485.85" fill="#c07248" stroke="#c07248" stroke-width="0.3" stroke-linejoin="round"/><text class="e" x="499.9" y="492.4">6:25pm</text>
<polygon points="569.83,482.10 572.01,485.41 575.82,486.45 573.35,489.54 573.53,493.50 569.83,492.10 566.13,493.50 566.31,489.54 563.84,486.45 567.66,485.41" fill="#7c5c10" stroke="#7c5c10" stroke-width="0.8" stroke-linejoin="miter"/><polygon points="569.83,484.50 571.68,485.85 573.54,487.19 572.83,489.37 572.12,491.56 569.83,491.55 567.54,491.56 566.84,489.37 566.12,487.19 567.98,485.85" fill="#c07248" stroke="#c07248" stroke-width="0.3" stroke-linejoin="round"/><text class="e" x="576.4" y="492.4">6:25pm</text>
<polygon points="646.38,482.10 648.56,485.41 652.37,486.45 649.90,489.54 650.08,493.50 646.38,492.10 642.68,493.50 642.86,489.54 640.39,486.45 644.21,485.41" fill="#7c5c10" stroke="#7c5c10" stroke-width="0.8" stroke-linejoin="miter"/><polygon points="646.38,484.50 648.23,485.85 650.09,487.19 649.38,489.37 648.67,491.56 646.38,491.55 644.09,491.56 643.39,489.37 642.67,487.19 644.53,485.85" fill="#c07248" stroke="#c07248" stroke-width="0.3" stroke-linejoin="round"/><text class="e" x="653.0" y="492.4">6:25pm</text>
<circle cx="169.2" cy="502.0" r="5.0" fill="#ffffcc" stroke="#8c8c8c" stroke-width="1"/><text class="e" x="176.0" y="505.7">12:46pm</text>
<circle cx="248.0" cy="502.0" r="5.0" fill="#ffffcc" stroke="#8c8c8c" stroke-width="1"/><text class="e" x="254.8" y="505.7">1:29pm</text>
<circle cx="326.8" cy="502.0" r="5.0" fill="#ffffcc" stroke="#8c8c8c" stroke-width="1"/><text class="e" x="333.6" y="505.7">2:11pm</text>
<circle cx="405.6" cy="502.0" r="5.0" fill="#ffffcc" stroke="#8c8c8c" stroke-width="1"/><text class="e" x="412.4" y="505.7">2:53pm</text>
<circle cx="484.5" cy="502.0" r="5.0" fill="#ffffcc" stroke="#8c8c8c" stroke-width="1"/><text class="e" x="491.3" y="505.7">3:37pm</text>
<circle cx="563.4" cy="502.0" r="5.0" fill="#ffffcc" stroke="#8c8c8c" stroke-width="1"/><text class="e" x="570.2" y="505.7">4:22pm</text>
<circle cx="642.4" cy="502.0" r="5.0" fill="#ffffcc" stroke="#8c8c8c" stroke-width="1"/><text class="e" x="649.2" y="505.7">5:09pm</text>
<circle cx="129.7" cy="515.5" r="5.0" fill="#c8c8b4" stroke="#8c8c8c" stroke-width="1"/><text class="e" x="136.5" y="519.2">12:23am</text>
<circle cx="208.6" cy="515.5" r="5.0" fill="#c8c8b4" stroke="#8c8c8c" stroke-width="1"/><text class="e" x="215.4" y="519.2">1:07am</text>
<circle cx="287.4" cy="515.5" r="5.0" fill="#c8c8b4" stroke="#8c8c8c" stroke-width="1"/><text class="e" x="294.2" y="519.2">1:50am</text>
<circle cx="366.2" cy="515.5" r="5.0" fill="#c8c8b4" stroke="#8c8c8c" stroke-width="1"/><text class="e" x="373.0" y="519.2">2:33am</text>
<circle cx="445.1" cy="515.5" r="5.0" fill="#c8c8b4" stroke="#8c8c8c" stroke-width="1"/><text class="e" x="451.9" y="519.2">3:17am</text>
<circle cx="524.1" cy="515.5" r="5.0" fill="#c8c8b4" stroke="#8c8c8c" stroke-width="1"/><text class="e" x="530.9" y="519.2">4:02am</text>
<circle cx="603.0" cy="515.5" r="5.0" fill="#c8c8b4" stroke="#8c8c8c" stroke-width="1"/><text class="e" x="609.8" y="519.2">4:48am</text>
<circle cx="682.2" cy="515.5" r="5.0" fill="#c8c8b4" stroke="#8c8c8c" stroke-width="1"/><text class="e" x="689.0" y="519.2">5:37am</text>
<text class="e" x="81.8" y="532.2">First Quarter | 3:10am</text>
</svg>
</body></html>
